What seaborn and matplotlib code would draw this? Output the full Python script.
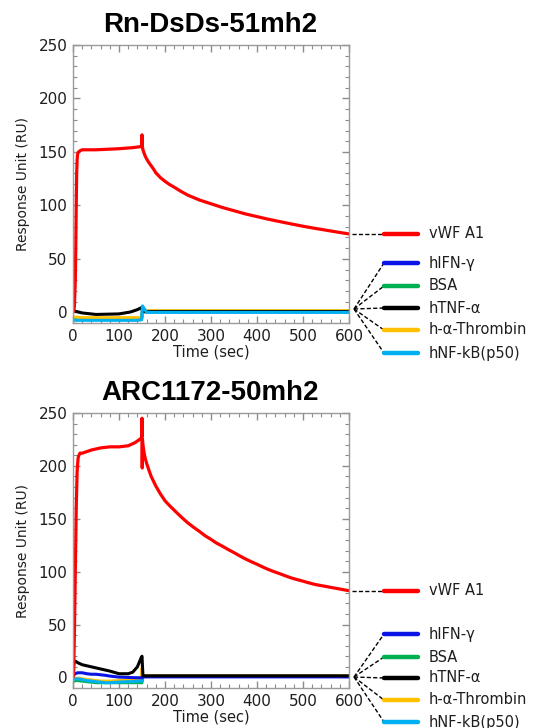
import numpy as np
import pandas as pd
import matplotlib
matplotlib.use("Agg")
import matplotlib.pyplot as plt
from matplotlib.lines import Line2D
from matplotlib.ticker import MultipleLocator
import seaborn as sns

sns.set_style("white")
plt.rcParams['font.family'] = ['DejaVu Sans']

ANALYTES = ["vWF A1", "hIFN-γ", "BSA", "hTNF-α", "h-α-Thrombin", "hNF-kB(p50)"]
COLORS = {"vWF A1": "#ff0000", "hIFN-γ": "#0a14e6", "BSA": "#00b050",
          "hTNF-α": "#000000", "h-α-Thrombin": "#ffc000", "hNF-kB(p50)": "#00b0f0"}

# ---- Rn-DsDs-51mh2 ----
t1_red = [0, 3, 5, 6, 7, 8, 9, 10, 12, 15, 20, 50, 100, 130, 148, 149.5, 150, 150.5, 152,
          154, 157, 160, 165, 170, 175, 180, 190, 200, 210, 222, 235, 250, 275, 300, 325, 350,
          375, 400, 425, 450, 475, 500, 525, 550, 575, 600]
v1_red = [0, 5, 30, 60, 100, 130, 143, 148, 150, 151, 152, 152, 153, 154, 155, 156, 166, 156, 152,
          149.5, 146, 143.5, 140, 137, 134, 130.5, 126, 122.5, 119.5, 116.5, 113, 109.5, 105, 101.5,
          98, 95, 92, 89.5, 87, 84.8, 82.6, 80.5, 78.6, 76.8, 75, 73.3]
t1_low = [0, 5, 20, 50, 100, 125, 140, 149, 151, 160, 300, 450, 600]
v1_black = [2.5, 1, -0.6, -2, -1.5, 0.3, 2.5, 4.4, 1, 0.8, 0.8, 0.8, 0.8]
v1_blue = [-5, -5.5, -6, -6, -6, -6, -6, -6, 0.5, 0.5, 0.5, 0.5, 0.5]
v1_green = [-6, -6, -6.5, -6.5, -6.5, -6.5, -6.5, -6.5, 0.5, 0.5, 0.5, 0.5, 0.5]
v1_orange = [-4, -4.5, -5, -5, -5, -5, -5, -5, 1.5, 1.5, 1.5, 1.5, 1.5]
v1_cyan = [-7, -7.5, -7.5, -7.5, -7.5, -7.5, -7.5, -7, 6, 0, 0, 0, 0]

# ---- ARC1172-50mh2 ----
t2_red = [0, 1.5, 3, 5, 7, 9, 11, 12, 14, 15, 20, 40, 60, 80, 100, 120, 135, 148, 149.5, 150, 150.5,
          151, 152, 154, 156, 158, 160, 165, 170, 175, 180, 190, 200, 212, 225, 237, 250, 262, 275,
          287, 300, 312, 325, 337, 350, 362, 375, 387, 400, 412, 425, 437, 450, 462, 475, 487, 500,
          512, 525, 537, 550, 562, 575, 587, 600]
v2_red = [0, 5, 40, 100, 160, 195, 207, 209, 211, 212, 212, 215, 217, 218, 218, 219, 222, 226, 228,
          245, 198, 225, 220, 214, 209, 205.5, 202.5, 196, 190, 185.5, 181, 173.5, 167, 161.5, 156,
          151, 146, 142, 138, 134, 130.5, 127, 124, 121, 118, 115, 112, 109.5, 107, 104.5, 102, 100,
          98, 96, 94, 92.5, 91, 89.5, 88, 87, 86, 85, 84, 83, 82]
t2_low = [0, 2, 5, 10, 20, 30, 40, 50, 60, 70, 80, 100, 120, 130, 140, 148, 150, 152, 160, 300, 450, 600]
v2_black = [4.4, 14, 15.4, 14, 12, 11, 10, 9, 8, 7, 6, 3.5, 3.5, 5, 10, 18.5, 20, 1.5, 1.5, 1.5, 1.5, 1.5]
v2_blue = [1, 2.5, 3.5, 4.4, 4.4, 3.5, 3, 3, 2.5, 2, 1.3, 0.3, 0, -0.2, -0.3, -0.3, -0.3, 0.5, 0.5, 0.5, 0.5, 0.5]
v2_green = [-4, -3.5, -3, -3, -3.5, -4, -4.5, -5, -5, -5, -5, -5, -5, -5, -5, -5, -5, 1, 1, 1, 1, 1]
v2_orange = [0, -0.5, -1, -1, -1.3, -2, -2.5, -3, -3.5, -3.5, -3.5, -3, -2.5, -2.5, -2, -2, 9, 2, 1.5, 1.5, 1.5, 1.5]
v2_cyan = [-2.5, -2, -1.5, -1.3, -2, -3, -3.5, -4, -4.5, -5, -5, -4.4, -4, -4, -3.5, -3.5, -3.5, 1, 1, 1, 1, 1]


def long_form(t_red, v_red, t_low, lows):
    frames = [pd.DataFrame({"time": t_red, "RU": v_red, "analyte": "vWF A1"})]
    for name, vals in lows.items():
        frames.append(pd.DataFrame({"time": t_low, "RU": vals, "analyte": name}))
    return pd.concat(frames, ignore_index=True)


df1 = long_form(t1_red, v1_red, t1_low,
                {"hIFN-γ": v1_blue, "BSA": v1_green, "h-α-Thrombin": v1_orange,
                 "hTNF-α": v1_black, "hNF-kB(p50)": v1_cyan})
df2 = long_form(t2_red, v2_red, t2_low,
                {"hIFN-γ": v2_blue, "BSA": v2_green, "h-α-Thrombin": v2_orange,
                 "hNF-kB(p50)": v2_cyan, "hTNF-α": v2_black})

W, H = 535, 728
fig = plt.figure(figsize=(W / 100, H / 100), dpi=100)
TXT = "#1e1e1e"


def fx(x, y):
    return x / W, 1 - y / H


def panel(df, title, top, bottom, draw_order):
    ax = fig.add_axes([73 / W, 1 - bottom / H, 276 / W, (bottom - top) / H])
    for name in draw_order:
        sub = df[df["analyte"] == name]
        sns.lineplot(data=sub, x="time", y="RU", color=COLORS[name], ax=ax,
                     estimator=None, sort=False, linewidth=2.3 if name == "vWF A1" else 2.2)
    ax.set_xlim(0, 600)
    ax.set_ylim(-10, 250)
    ax.xaxis.set_major_locator(MultipleLocator(100))
    ax.xaxis.set_minor_locator(MultipleLocator(20))
    ax.yaxis.set_major_locator(MultipleLocator(50))
    ax.yaxis.set_minor_locator(MultipleLocator(10))
    ax.tick_params(which="both", direction="in", bottom=True, left=True, top=True, right=True,
                   color="#8c8c8c", labelsize=11, labelcolor=TXT, pad=4)
    ax.tick_params(which="major", length=5, width=1)
    ax.tick_params(which="minor", length=3, width=0.8)
    for s in ax.spines.values():
        s.set_color("#9a9a9a")
        s.set_linewidth(1)
    ax.set_xlabel("Time (sec)", fontsize=10.5, labelpad=1, color=TXT)
    ax.set_ylabel("Response Unit (RU)", fontsize=10, labelpad=6, color=TXT)
    fig.text(*fx(210, top - 20), title, ha="center", va="center", fontsize=20,
             fontweight="bold", family="Liberation Sans", color="black")
    return ax


def legend_block(ax, red_end, zero_y, ys):
    # red entry, connected to the end of the vWF curve
    _, ry = fig.transFigure.inverted().transform(ax.transData.transform((600, red_end)))
    rx0, _ = fx(352, 0)
    lx0, _ = fx(384, 0)
    lx1, _ = fx(418, 0)
    tx, _ = fx(429, 0)
    fig.add_artist(Line2D([rx0, lx0], [ry, ry], color="black", lw=1, ls=(0, (3, 1.6))))
    fig.add_artist(Line2D([lx0, lx1], [ry, ry], color=COLORS["vWF A1"], lw=3.2))
    fig.text(tx, ry, "vWF A1", va="center", ha="left", fontsize=10.5, color=TXT)
    ox, oy = fx(354, zero_y)
    for name, y in zip(ANALYTES[1:], ys):
        _, yy = fx(0, y)
        fig.add_artist(Line2D([ox, lx0], [oy, yy], color="black", lw=1, ls=(0, (3, 1.6))))
        fig.add_artist(Line2D([lx0, lx1], [yy, yy], color=COLORS[name], lw=3.2))
        fig.text(tx, yy, name, va="center", ha="left", fontsize=10.5, color=TXT)


ax1 = panel(df1, "Rn-DsDs-51mh2", 45, 323,
            ["hIFN-γ", "BSA", "h-α-Thrombin", "hTNF-α", "hNF-kB(p50)", "vWF A1"])
ax2 = panel(df2, "ARC1172-50mh2", 413, 688,
            ["BSA", "h-α-Thrombin", "hNF-kB(p50)", "hIFN-γ", "hTNF-α", "vWF A1"])

legend_block(ax1, v1_red[-1], 309, [263, 286, 308, 330, 353])
legend_block(ax2, v2_red[-1], 677, [634, 657, 678, 700, 722])

fig.savefig("out.png", dpi=100)
